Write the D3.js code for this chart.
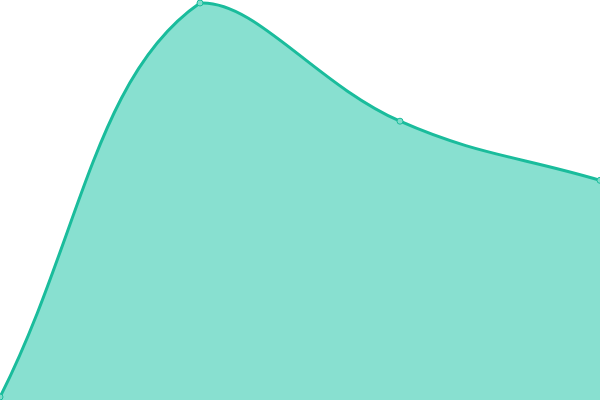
<!DOCTYPE html>
<html>
<head>
<meta charset="utf-8">
<script src="https://cdn.jsdelivr.net/npm/d3@7"></script>
<style>
    html, body { margin: 0; padding: 0; background: #fff; }
    #chart { width: 600px; height: 400px; }
    .area { fill: #88e0d0; }
    .line { fill: none; stroke: #1abc9c; stroke-width: 3; }
    .dot { fill: #7fdcca; stroke: #1abc9c; stroke-width: 1; }
</style>
</head>
<body>
<div id="chart"></div>
<script>
(function () {
    "use strict";

    const categories = [0, 1, 2, 3];
    const values = [0, 100, 70, 55];

    // spline with distance weighted tangents, control points kept inside the box
    function splineCurve(tension, box) {
        function Spline(context) {
            this._context = context;
        }

        Spline.prototype = {
            areaStart: function () { this._line = 0; },
            areaEnd: function () { this._line = NaN; },
            lineStart: function () { this._pts = []; },
            point: function (x, y) { this._pts.push([+x, +y]); },
            lineEnd: function () {
                const p = this._pts;
                const n = p.length;
                const ctx = this._context;
                if (n) {
                    if (this._line) ctx.lineTo(p[0][0], p[0][1]);
                    else ctx.moveTo(p[0][0], p[0][1]);
                }
                const cpIn = [];
                const cpOut = [];
                for (let i = 0; i < n; i++) {
                    const prev = p[i - 1] || p[i];
                    const cur = p[i];
                    const next = p[i + 1] || p[i];
                    const d01 = Math.hypot(cur[0] - prev[0], cur[1] - prev[1]);
                    const d12 = Math.hypot(next[0] - cur[0], next[1] - cur[1]);
                    let s01 = d01 / (d01 + d12);
                    let s12 = d12 / (d01 + d12);
                    if (isNaN(s01)) s01 = 0;
                    if (isNaN(s12)) s12 = 0;
                    const fa = tension * s01;
                    const fb = tension * s12;
                    const dx = next[0] - prev[0];
                    const dy = next[1] - prev[1];
                    cpIn.push([clamp(cur[0] - fa * dx, box.x0, box.x1), clamp(cur[1] - fa * dy, box.y0, box.y1)]);
                    cpOut.push([clamp(cur[0] + fb * dx, box.x0, box.x1), clamp(cur[1] + fb * dy, box.y0, box.y1)]);
                }
                for (let i = 1; i < n; i++) {
                    ctx.bezierCurveTo(cpOut[i - 1][0], cpOut[i - 1][1], cpIn[i][0], cpIn[i][1], p[i][0], p[i][1]);
                }
                if (this._line || (this._line !== 0 && n === 1)) ctx.closePath();
                this._line = 1 - this._line;
            }
        };

        function clamp(v, a, b) {
            return Math.max(a, Math.min(b, v));
        }

        return function (context) {
            return new Spline(context);
        };
    }

    function drawChart(selection) {
        const width = 600;
        const height = 400;

        const svg = selection.append("svg")
            .attr("width", width)
            .attr("height", height);

        const data = categories.map((c, i) => ({ x: c, y: values[i] }));

        const xScale = d3.scaleLinear()
            .domain([0, 3])
            .range([0, width]);

        const yScale = d3.scaleLinear()
            .domain([0, 100])
            .range([397, 3]);

        const curve = splineCurve(0.4, { x0: 0, x1: width, y0: 0, y1: height });

        const area = d3.area()
            .x(d => xScale(d.x))
            .y0(height)
            .y1(d => yScale(d.y))
            .curve(curve);

        const line = d3.line()
            .x(d => xScale(d.x))
            .y(d => yScale(d.y))
            .curve(curve);

        svg.append("path")
            .attr("class", "area")
            .attr("d", area(data));

        svg.append("path")
            .attr("class", "line")
            .attr("d", line(data));

        svg.selectAll(".dot")
            .data(data)
            .enter()
            .append("circle")
            .attr("class", "dot")
            .attr("cx", d => xScale(d.x))
            .attr("cy", d => yScale(d.y))
            .attr("r", 3);
    }

    d3.select("#chart").call(drawChart);
}());
</script>
</body>
</html>
